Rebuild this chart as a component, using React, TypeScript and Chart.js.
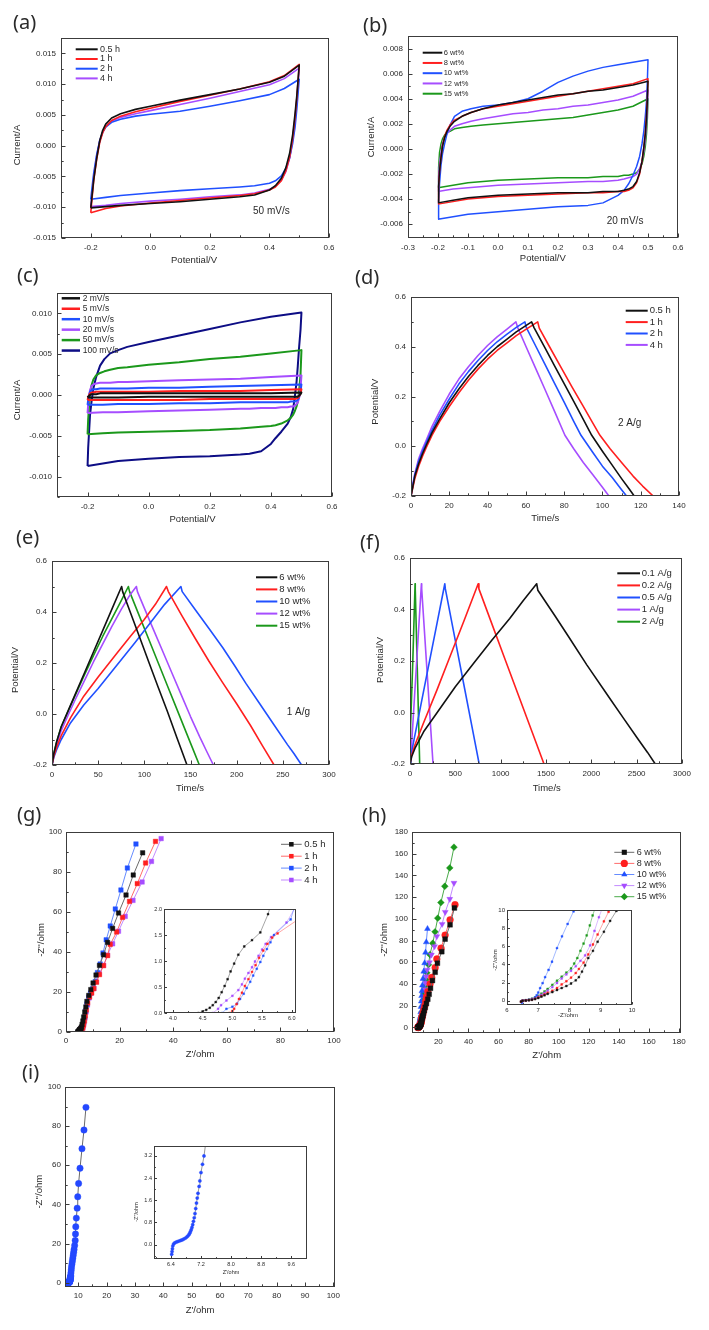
import React, { useEffect, useRef } from 'react';
import { Chart, registerables } from 'chart.js';

Chart.register(...registerables);

const SANS = '"Liberation Sans", Arial, sans-serif';
const LABEL_FONT = '"Noto Sans", "Open Sans", sans-serif';
const INK = '#2a2a2a';
const FRAME = '#3c3c3c';

const BLACK = '#111111';
const RED = '#ff1f1f';
const BLUE = '#2050ff';
const PURPLE = '#a64dff';
const GREEN = '#1b981b';
const NAVY = '#0d0d85';

// ================= (a) CV of samples, 50 mV/s =================
const A_SERIES = ['0.5 h', '1 h', '2 h', '4 h'];
const A_UP_V = [-0.2, -0.195, -0.19, -0.18, -0.17, -0.16, -0.15, -0.13, -0.1, -0.05, 0, 0.1, 0.2, 0.3, 0.4, 0.45, 0.5];
const A_LOW_V = [0.5, 0.497, 0.492, 0.486, 0.478, 0.468, 0.455, 0.44, 0.42, 0.4, 0.35, 0.3, 0.2, 0.1, 0, -0.1, -0.15, -0.2];
const A_05H_UP = [-0.0101, -0.0078, -0.0055, -0.002, 0.0008, 0.0025, 0.0035, 0.0045, 0.0052, 0.0059, 0.0064, 0.0074, 0.0083, 0.0092, 0.0103, 0.0113, 0.0131];
const A_05H_LOW = [0.0131, 0.0112, 0.0082, 0.0052, 0.0018, -0.0012, -0.0036, -0.0053, -0.0065, -0.0072, -0.008, -0.0083, -0.0087, -0.0091, -0.0094, -0.0097, -0.0099, -0.0101];
const A_1H_UP = [-0.0109, -0.0082, -0.0056, -0.0022, 0.0005, 0.0021, 0.0031, 0.0041, 0.0048, 0.0055, 0.0061, 0.0072, 0.0082, 0.0092, 0.0104, 0.0114, 0.0132];
const A_1H_LOW = [0.0132, 0.0112, 0.0078, 0.0046, 0.0012, -0.0018, -0.0041, -0.0057, -0.0067, -0.0072, -0.0078, -0.0081, -0.0085, -0.0089, -0.0093, -0.0098, -0.0102, -0.0109];
const A_2H_UP = [-0.0087, -0.0065, -0.0044, -0.0014, 0.0008, 0.0022, 0.003, 0.0038, 0.0043, 0.0048, 0.0051, 0.0056, 0.0064, 0.0073, 0.0083, 0.0093, 0.0108];
const A_2H_LOW = [0.0108, 0.009, 0.006, 0.003, 0.0004, -0.0019, -0.0037, -0.0049, -0.0057, -0.0061, -0.0065, -0.0067, -0.007, -0.0073, -0.0077, -0.0081, -0.0084, -0.0087];
const A_4H_UP = [-0.0099, -0.0074, -0.005, -0.0016, 0.0008, 0.0022, 0.0031, 0.004, 0.0046, 0.0052, 0.0057, 0.0067, 0.0077, 0.0088, 0.0099, 0.0109, 0.0126];
const A_4H_LOW = [0.0126, 0.0106, 0.0072, 0.0041, 0.0009, -0.002, -0.0042, -0.0056, -0.0066, -0.0071, -0.0077, -0.008, -0.0083, -0.0087, -0.009, -0.0094, -0.0097, -0.0099];
const A_XTICKS = [-0.2, 0, 0.2, 0.4, 0.6];
const A_YTICKS = [-0.015, -0.01, -0.005, 0, 0.005, 0.01, 0.015];

// ================= (b) CV of loadings, 20 mV/s =================
const B_SERIES = ['6 wt%', '8 wt%', '10 wt%', '12 wt%', '15 wt%'];
const B_UP_V = [-0.2, -0.198, -0.195, -0.19, -0.185, -0.178, -0.17, -0.16, -0.145, -0.12, -0.09, -0.05, 0, 0.05, 0.1, 0.15, 0.2, 0.25, 0.3, 0.35, 0.4, 0.45, 0.5];
const B_LOW_V = [0.5, 0.498, 0.495, 0.491, 0.486, 0.48, 0.472, 0.462, 0.45, 0.435, 0.42, 0.4, 0.35, 0.3, 0.2, 0.1, 0, -0.1, -0.15, -0.2];
const B6_UP = [-0.0043, -0.003, -0.0018, -0.0007, 0.0002, 0.0009, 0.0014, 0.0018, 0.0022, 0.0026, 0.0029, 0.0032, 0.0035, 0.0037, 0.0039, 0.0041, 0.0043, 0.0044, 0.0046, 0.0047, 0.0049, 0.0051, 0.0054];
const B6_LOW = [0.0054, 0.004, 0.0025, 0.0012, 0.0001, -0.001, -0.0019, -0.0026, -0.003, -0.0032, -0.0033, -0.0034, -0.0034, -0.0035, -0.0035, -0.0036, -0.0037, -0.0039, -0.0041, -0.0043];
const B8_UP = [-0.0044, -0.003, -0.0018, -0.0007, 0.0003, 0.001, 0.0015, 0.0019, 0.0023, 0.0026, 0.0029, 0.0032, 0.0034, 0.0036, 0.0038, 0.004, 0.0042, 0.0044, 0.0046, 0.0048, 0.005, 0.0052, 0.0056];
const B8_LOW = [0.0056, 0.0042, 0.0027, 0.0013, 0.0001, -0.001, -0.002, -0.0027, -0.0031, -0.0033, -0.0034, -0.0034, -0.0035, -0.0035, -0.0036, -0.0037, -0.0038, -0.004, -0.0042, -0.0044];
const B10_UP = [-0.0056, -0.0042, -0.0028, -0.0013, -0.0004, 0.0004, 0.0012, 0.0019, 0.0026, 0.003, 0.0032, 0.0034, 0.0035, 0.0037, 0.004, 0.0046, 0.0053, 0.0058, 0.0062, 0.0065, 0.0067, 0.0069, 0.0071];
const B10_LOW = [0.0071, 0.0055, 0.0038, 0.0026, 0.0014, 0.0004, -0.0006, -0.0014, -0.0021, -0.0028, -0.0033, -0.0037, -0.0043, -0.0045, -0.0046, -0.0048, -0.005, -0.0052, -0.0054, -0.0056];
const B12_UP = [-0.0034, -0.0022, -0.0012, -0.0003, 0.0004, 0.0009, 0.0012, 0.0015, 0.0018, 0.002, 0.0022, 0.0024, 0.0026, 0.0028, 0.0029, 0.0031, 0.0032, 0.0034, 0.0035, 0.0037, 0.0039, 0.0042, 0.0047];
const B12_LOW = [0.0047, 0.0033, 0.002, 0.0008, -0.0002, -0.001, -0.0016, -0.002, -0.0022, -0.0023, -0.0024, -0.0025, -0.0026, -0.0026, -0.0027, -0.0028, -0.0029, -0.0031, -0.0032, -0.0034];
const B15_UP = [-0.0031, -0.0015, -0.0003, 0.0004, 0.0008, 0.0011, 0.0013, 0.0014, 0.0016, 0.0017, 0.0018, 0.0019, 0.002, 0.0021, 0.0022, 0.0023, 0.0024, 0.0025, 0.0027, 0.0029, 0.0031, 0.0034, 0.004];
const B15_LOW = [0.004, 0.0025, 0.0012, 0.0002, -0.0006, -0.0012, -0.0016, -0.0019, -0.002, -0.0021, -0.0021, -0.0022, -0.0022, -0.0023, -0.0023, -0.0024, -0.0025, -0.0027, -0.0029, -0.0031];
const B_XTICKS = [-0.3, -0.2, -0.1, 0, 0.1, 0.2, 0.3, 0.4, 0.5, 0.6];
const B_YTICKS = [-0.006, -0.004, -0.002, 0, 0.002, 0.004, 0.006, 0.008];

// ================= (c) CV at scan rates =================
const C_SERIES = ['2 mV/s', '5 mV/s', '10 mV/s', '20 mV/s', '50 mV/s', '100 mV/s'];
const C_UP_V = [-0.2, -0.198, -0.195, -0.192, -0.187, -0.181, -0.172, -0.159, -0.145, -0.126, -0.1, -0.07, 0, 0.1, 0.2, 0.3, 0.4, 0.5];
const C_LOW_V = [0.5, 0.497, 0.492, 0.488, 0.484, 0.479, 0.473, 0.465, 0.455, 0.434, 0.415, 0.4, 0.368, 0.33, 0.3, 0.2, 0.1, 0, -0.1, -0.15, -0.2];
const C2_UP = [-0.0003, -0.0002, -0.0001, 0, 0.0001, 0.0001, 0.0001, 0.0002, 0.0002, 0.0002, 0.0002, 0.0002, 0.0002, 0.0002, 0.0002, 0.0002, 0.0002, 0.0003];
const C2_LOW = [0.0003, 0.0001, -0.0001, -0.0002, -0.0002, -0.0002, -0.0002, -0.0002, -0.0002, -0.0002, -0.0002, -0.0002, -0.0002, -0.0002, -0.0002, -0.0002, -0.0002, -0.0002, -0.0003, -0.0003, -0.0003];
const C5_UP = [-0.0006, -0.0003, 0, 0.0002, 0.0003, 0.0003, 0.0004, 0.0004, 0.0004, 0.0004, 0.0004, 0.0004, 0.0004, 0.0005, 0.0005, 0.0005, 0.0006, 0.0007];
const C5_LOW = [0.0007, 0.0002, -0.0002, -0.0004, -0.0004, -0.0005, -0.0005, -0.0005, -0.0005, -0.0005, -0.0005, -0.0005, -0.0005, -0.0005, -0.0005, -0.0005, -0.0006, -0.0006, -0.0006, -0.0006, -0.0006];
const C10_UP = [-0.0012, -0.0006, 0, 0.0004, 0.0006, 0.0007, 0.0007, 0.0008, 0.0008, 0.0008, 0.0008, 0.0008, 0.0009, 0.0009, 0.001, 0.0011, 0.0012, 0.0013];
const C10_LOW = [0.0013, 0.0004, -0.0003, -0.0006, -0.0007, -0.0008, -0.0008, -0.0008, -0.0009, -0.0009, -0.0009, -0.0009, -0.0009, -0.0009, -0.0009, -0.001, -0.001, -0.0011, -0.0011, -0.0012, -0.0012];
const C20_UP = [-0.0022, -0.0012, -0.0002, 0.0006, 0.0011, 0.0013, 0.0014, 0.0015, 0.0015, 0.0015, 0.0016, 0.0016, 0.0017, 0.0018, 0.0019, 0.002, 0.0022, 0.0024];
const C20_LOW = [0.0024, 0.0008, -0.0004, -0.0009, -0.0011, -0.0013, -0.0014, -0.0014, -0.0015, -0.0015, -0.0016, -0.0016, -0.0016, -0.0017, -0.0017, -0.0018, -0.0019, -0.002, -0.0021, -0.0021, -0.0022];
const C50_UP = [-0.0048, -0.003, -0.0013, 0, 0.0012, 0.0019, 0.0024, 0.0027, 0.0029, 0.0031, 0.0033, 0.0034, 0.0037, 0.004, 0.0044, 0.0047, 0.0051, 0.0055];
const C50_LOW = [0.0055, 0.0025, 0.0003, -0.0008, -0.0014, -0.0019, -0.0024, -0.0028, -0.0031, -0.0035, -0.0037, -0.0038, -0.0039, -0.004, -0.0041, -0.0043, -0.0044, -0.0045, -0.0046, -0.0047, -0.0048];
const C100_UP = [-0.0087, -0.0065, -0.0045, -0.0025, -0.0008, 0.0008, 0.0022, 0.0036, 0.0044, 0.0051, 0.0055, 0.0059, 0.0065, 0.0073, 0.0081, 0.0089, 0.0096, 0.0101];
const C100_LOW = [0.0101, 0.008, 0.0057, 0.0035, 0.0016, 0, -0.0017, -0.0027, -0.0035, -0.0045, -0.0053, -0.006, -0.0069, -0.0072, -0.0073, -0.0075, -0.0076, -0.0078, -0.0081, -0.0084, -0.0087];
const C_XTICKS = [-0.2, 0, 0.2, 0.4, 0.6];
const C_YTICKS = [-0.01, -0.005, 0, 0.005, 0.01];

// ================= (d) GCD of samples, 2 A/g =================
const D_SERIES = ['0.5 h', '1 h', '2 h', '4 h'];
const D05_T = [0, 1, 2, 4, 6, 8, 11, 15, 20, 25, 30, 35, 40, 45, 50, 55, 60, 63, 64.2, 70, 75, 80, 85, 90, 94.4, 100, 105, 110, 114, 116.6];
const D05_V = [-0.2, -0.16, -0.12, -0.07, -0.03, 0.005, 0.055, 0.11, 0.175, 0.23, 0.28, 0.325, 0.365, 0.4, 0.43, 0.46, 0.485, 0.5, 0.478, 0.395, 0.323, 0.252, 0.18, 0.108, 0.044, -0.02, -0.075, -0.13, -0.172, -0.2];
const D1_T = [0, 1, 2, 4, 6, 8, 11, 15, 20, 25, 30, 35, 40, 45, 50, 55, 60, 66.2, 67, 72, 78, 84, 90, 95, 98.7, 104, 110, 116, 121, 126.5];
const D1_V = [-0.2, -0.165, -0.13, -0.08, -0.04, -0.005, 0.045, 0.1, 0.16, 0.215, 0.265, 0.31, 0.35, 0.385, 0.415, 0.445, 0.47, 0.5, 0.475, 0.405, 0.322, 0.24, 0.16, 0.093, 0.044, -0.01, -0.065, -0.12, -0.16, -0.2];
const D2_T = [0, 1, 2, 4, 6, 8, 11, 15, 20, 25, 30, 35, 40, 45, 50, 55, 59.5, 60.2, 65, 70, 75, 80, 85, 88.8, 95, 100, 105, 110, 112.6];
const D2_V = [-0.2, -0.155, -0.115, -0.06, -0.02, 0.015, 0.065, 0.125, 0.19, 0.25, 0.3, 0.345, 0.385, 0.42, 0.45, 0.478, 0.5, 0.478, 0.405, 0.329, 0.253, 0.177, 0.1, 0.044, -0.025, -0.08, -0.125, -0.175, -0.2];
const D4_T = [0, 1, 2, 4, 6, 8, 11, 15, 20, 25, 30, 35, 40, 45, 50, 54.8, 55.7, 60, 65, 70, 75, 80.4, 85, 90, 95, 100, 103.4];
const D4_V = [-0.2, -0.15, -0.11, -0.05, -0.01, 0.025, 0.08, 0.14, 0.21, 0.27, 0.32, 0.365, 0.405, 0.44, 0.47, 0.5, 0.478, 0.402, 0.315, 0.228, 0.14, 0.044, -0.01, -0.065, -0.115, -0.165, -0.2];
const D_XTICKS = [0, 20, 40, 60, 80, 100, 120, 140];
const GCD_YTICKS = [-0.2, 0, 0.2, 0.4, 0.6];

// ================= (e) GCD of loadings, 1 A/g =================
const E_SERIES = ['6 wt%', '8 wt%', '10 wt%', '12 wt%', '15 wt%'];
const E6_T = [0, 2, 5, 10, 18, 25, 35, 45, 55, 65, 75.4, 76.5, 85, 95, 105, 115, 125, 135, 146.2];
const E6_V = [-0.2, -0.155, -0.11, -0.05, 0.017, 0.076, 0.16, 0.244, 0.328, 0.412, 0.5, 0.48, 0.397, 0.3, 0.202, 0.105, 0.01, -0.09, -0.2];
const E8_T = [0, 2, 5, 10, 20, 34.4, 50, 70.7, 85, 99.7, 112, 124, 126, 140, 155, 170, 185, 200, 215, 228, 240.5];
const E8_V = [-0.2, -0.165, -0.13, -0.085, -0.015, 0.07, 0.145, 0.24, 0.305, 0.37, 0.43, 0.5, 0.48, 0.39, 0.297, 0.207, 0.122, 0.04, -0.045, -0.125, -0.2];
const E10_T = [0, 2, 5, 10, 20, 34.4, 50, 70, 90, 107, 122, 139.6, 141, 155, 170, 185, 197.7, 210, 225, 240, 255, 262, 270.3];
const E10_V = [-0.2, -0.17, -0.14, -0.1, -0.035, 0.035, 0.1, 0.19, 0.28, 0.36, 0.43, 0.5, 0.48, 0.41, 0.335, 0.26, 0.19, 0.12, 0.04, -0.04, -0.12, -0.155, -0.2];
const E12_T = [0, 2, 5, 10, 18, 25, 35, 45, 55, 65, 75, 85, 91.4, 92.5, 100, 110, 120, 130, 140, 150, 160, 168, 174.8];
const E12_V = [-0.2, -0.16, -0.12, -0.065, 0.0, 0.055, 0.13, 0.205, 0.275, 0.345, 0.41, 0.47, 0.5, 0.48, 0.415, 0.33, 0.245, 0.16, 0.075, -0.01, -0.09, -0.15, -0.2];
const E15_T = [0, 2, 5, 10, 18, 25, 35, 45, 55, 65, 75, 82.7, 84, 95, 105, 115, 125, 135, 145, 152, 159.6];
const E15_V = [-0.2, -0.155, -0.11, -0.05, 0.015, 0.072, 0.152, 0.23, 0.305, 0.375, 0.445, 0.5, 0.48, 0.381, 0.291, 0.201, 0.111, 0.021, -0.069, -0.132, -0.2];
const E_XTICKS = [0, 50, 100, 150, 200, 250, 300];

// ================= (f) GCD at current densities =================
const F_SERIES = ['0.1 A/g', '0.2 A/g', '0.5 A/g', '1 A/g', '2 A/g'];
const F01_T = [0, 20, 60, 150, 300, 500, 700, 900, 1100, 1250, 1397, 1410, 1600, 1746, 1950, 2189, 2350, 2520, 2620, 2705];
const F01_V = [-0.2, -0.17, -0.135, -0.075, 0.0, 0.1, 0.19, 0.28, 0.365, 0.435, 0.5, 0.475, 0.375, 0.296, 0.185, 0.062, -0.02, -0.106, -0.155, -0.2];
const F02_T = [0, 15, 50, 150, 300, 450, 600, 752, 760, 900, 1050, 1200, 1350, 1478];
const F02_V = [-0.2, -0.17, -0.13, -0.04, 0.09, 0.225, 0.36, 0.5, 0.48, 0.347, 0.205, 0.063, -0.079, -0.2];
const F05_T = [0, 8, 25, 100, 200, 300, 384, 390, 500, 600, 700, 763];
const F05_V = [-0.2, -0.17, -0.14, -0.006, 0.172, 0.35, 0.5, 0.48, 0.279, 0.097, -0.085, -0.2];
const F1_T = [0, 5, 15, 50, 90, 126, 129, 180, 220, 254];
const F1_V = [-0.2, -0.17, -0.14, 0.062, 0.293, 0.5, 0.48, 0.203, -0.015, -0.2];
const F2_T = [0, 3, 10, 30, 56, 58, 80, 107];
const F2_V = [-0.2, -0.15, -0.05, 0.189, 0.5, 0.48, 0.175, -0.2];
const F_XTICKS = [0, 500, 1000, 1500, 2000, 2500, 3000];

// ================= (g) Nyquist of samples =================
const G_SERIES = ['0.5 h', '1 h', '2 h', '4 h'];
const G05_X = [4.43, 4.5, 4.56, 4.62, 4.67, 4.72, 4.77, 4.82, 4.87, 4.92, 4.97, 5.03, 5.1, 5.2, 5.33, 5.47, 5.6, 5.75, 6.0, 6.3, 6.6, 7.0, 7.4, 7.8, 8.5, 9.25, 10.1, 11.2, 12.5, 14.0, 15.5, 17.4, 19.6, 22.4, 25.1, 28.6];
const G05_Y = [0, 0.03, 0.06, 0.1, 0.15, 0.21, 0.29, 0.4, 0.52, 0.65, 0.8, 0.95, 1.12, 1.28, 1.4, 1.55, 1.9, 2.5, 3.8, 5.5, 7.5, 10, 12.5, 15.3, 18.3, 21.2, 24.5, 28.5, 33.3, 38.6, 44.8, 51.8, 59.5, 68.5, 78.5, 89.6];
const G1_X = [4.95, 5.0, 5.03, 5.07, 5.11, 5.16, 5.21, 5.27, 5.33, 5.39, 5.45, 5.52, 5.59, 5.67, 5.76, 6.3, 6.6, 6.9, 7.2, 7.6, 8.1, 8.8, 9.6, 10.4, 11.4, 12.5, 14.0, 15.5, 16.5, 18.9, 21.1, 23.7, 26.6, 29.7, 33.4];
const G1_Y = [0, 0.04, 0.08, 0.17, 0.27, 0.39, 0.52, 0.65, 0.79, 0.92, 1.06, 1.2, 1.33, 1.45, 1.53, 1.95, 3.5, 5.5, 8, 11, 14.5, 17.5, 19.5, 21.7, 24.9, 28.7, 33.2, 38.2, 43.8, 50, 57.3, 65.3, 74.2, 84.5, 95.3];
const G2_X = [4.83, 4.9, 5.0, 5.08, 5.13, 5.19, 5.24, 5.3, 5.35, 5.41, 5.47, 5.52, 5.58, 5.64, 5.7, 5.98, 6.3, 6.6, 6.9, 7.3, 7.8, 8.5, 9.2, 10.0, 10.9, 11.75, 12.75, 13.8, 15.0, 16.5, 18.4, 20.5, 22.9, 26.1];
const G2_Y = [0, 0.08, 0.12, 0.18, 0.27, 0.37, 0.48, 0.6, 0.72, 0.85, 0.98, 1.1, 1.23, 1.36, 1.5, 1.8, 3, 5, 7.5, 10.5, 14, 17.5, 19.5, 21.8, 25.2, 29.7, 34, 39.5, 46.1, 53, 61.5, 71, 82, 94];
const G4_X = [4.67, 4.76, 4.81, 4.9, 5.0, 5.1, 5.16, 5.21, 5.27, 5.33, 5.38, 5.44, 5.5, 5.56, 5.65, 5.91, 6.3, 6.7, 7.1, 7.5, 8.0, 8.6, 9.4, 10.4, 11.2, 12.4, 14.0, 15.5, 17.4, 19.6, 22.1, 25.0, 28.4, 31.9, 35.5];
const G4_Y = [0, 0.08, 0.15, 0.24, 0.33, 0.44, 0.55, 0.66, 0.77, 0.88, 0.99, 1.1, 1.22, 1.33, 1.46, 1.74, 2.5, 4.5, 7, 10, 13.5, 17, 19.5, 21.8, 25.2, 29.2, 33.3, 38.4, 44.1, 50.4, 57.8, 65.8, 75, 85.3, 96.7];
const G_TICKS = [0, 20, 40, 60, 80, 100];
const GI_XTICKS = [4, 4.5, 5, 5.5, 6];
const GI_YTICKS = [0, 0.5, 1, 1.5, 2];

// ================= (h) Nyquist of loadings =================
const H_SERIES = ['6 wt%', '8 wt%', '10 wt%', '12 wt%', '15 wt%'];
const H6_X = [6.45, 6.5, 6.6, 6.7, 6.8, 6.9, 7.0, 7.1, 7.2, 7.3, 7.45, 7.6, 7.75, 7.9, 8.05, 8.2, 8.3, 8.4, 8.5, 8.6, 8.75, 8.9, 9.1, 9.3, 9.5, 9.8, 10.2, 10.7, 11.3, 12.1, 13.0, 13.9, 14.8, 16.1, 17.9, 19.4, 22.3, 24.5, 27.8, 30.7];
const H6_Y = [-0.1, 0, 0.02, 0.05, 0.1, 0.18, 0.3, 0.45, 0.6, 0.75, 0.95, 1.18, 1.4, 1.62, 1.9, 2.25, 2.6, 3.2, 3.9, 4.7, 5.5, 6.5, 7.6, 8.8, 9.9, 11, 13, 15.5, 18.5, 22, 25.9, 30.5, 36, 43.1, 50.8, 59.1, 69.7, 81.3, 94.5, 110];
const H8_X = [6.45, 6.5, 6.6, 6.7, 6.8, 6.9, 7.0, 7.1, 7.2, 7.3, 7.45, 7.6, 7.75, 7.9, 8.05, 8.2, 8.3, 8.45, 8.6, 8.75, 8.9, 9.1, 9.25, 9.5, 9.9, 10.4, 11.0, 11.6, 12.1, 13.0, 14.5, 15.6, 17.9, 19.0, 21.8, 24.5, 27.8, 31.1];
const H8_Y = [-0.1, 0, 0.03, 0.07, 0.13, 0.22, 0.35, 0.52, 0.7, 0.88, 1.1, 1.4, 1.8, 2.15, 2.55, 3.05, 3.5, 4.2, 5.1, 6.2, 7.3, 8.75, 9.8, 11, 13.5, 16.5, 20, 24, 28, 33, 40, 46, 55, 63, 73, 85, 99.1, 113];
const H10_X = [6.46, 6.48, 6.5, 6.6, 6.7, 6.8, 6.9, 6.95, 7.0, 7.06, 7.14, 7.22, 7.33, 7.44, 7.6, 7.76, 7.94, 8.13, 8.3, 8.5, 8.7, 8.9, 9.1, 9.4, 9.8, 10.3, 10.9, 11.5, 12.0, 12.8];
const H10_Y = [-0.5, -0.2, 0, 0.05, 0.1, 0.2, 0.37, 0.6, 0.9, 1.39, 1.94, 2.6, 3.4, 4.3, 5.8, 7.1, 8.46, 9.85, 14, 19, 24, 29, 33.5, 38.7, 44.8, 51.5, 59.2, 69, 78.5, 90.8];
const H12_X = [6.45, 6.5, 6.6, 6.7, 6.8, 6.9, 7.0, 7.1, 7.2, 7.3, 7.45, 7.6, 7.75, 7.9, 8.05, 8.2, 8.35, 8.5, 8.66, 8.8, 8.94, 9.05, 9.3, 9.6, 10.0, 10.5, 11.0, 11.5, 11.9, 12.6, 14.1, 15.4, 17.5, 19.0, 22.5, 24.6, 27.6, 30.4];
const H12_Y = [-0.1, 0, 0.04, 0.09, 0.17, 0.28, 0.45, 0.65, 0.88, 1.12, 1.5, 1.95, 2.45, 2.9, 3.3, 3.8, 4.4, 5.0, 6.1, 7.7, 9.2, 10.2, 13, 17, 22, 28, 35, 41, 46.9, 53, 59.8, 66.9, 74.6, 83.8, 95.1, 106.2, 118.2, 133];
const H15_X = [6.45, 6.5, 6.6, 6.7, 6.8, 6.9, 7.0, 7.1, 7.2, 7.3, 7.45, 7.6, 7.75, 7.9, 8.05, 8.15, 8.25, 8.35, 8.45, 8.55, 8.65, 8.74, 8.85, 9.1, 9.4, 9.8, 10.3, 10.9, 11.8, 12.4, 13.5, 14.4, 16.3, 17.8, 19.6, 21.7, 24.3, 27.6, 30.4];
const H15_Y = [-0.1, 0, 0.05, 0.12, 0.22, 0.36, 0.55, 0.78, 1.02, 1.3, 1.75, 2.2, 2.65, 3.1, 3.55, 4.1, 4.7, 5.5, 6.3, 7.2, 8.3, 9.4, 10.5, 14, 19, 25, 31, 37.5, 43.8, 50.2, 57.8, 67, 77.5, 88, 100.6, 115, 130, 146.9, 166];
const H_XTICKS = [20, 40, 60, 80, 100, 120, 140, 160, 180];
const H_YTICKS = [0, 20, 40, 60, 80, 100, 120, 140, 160, 180];
const HI_XTICKS = [6, 7, 8, 9, 10];
const HI_YTICKS = [0, 2, 4, 6, 8, 10];

// ================= (i) Nyquist =================
const I_X = [6.42, 6.43, 6.44, 6.45, 6.47, 6.5, 6.54, 6.58, 6.62, 6.66, 6.7, 6.74, 6.78, 6.82, 6.85, 6.88, 6.9, 6.92, 6.94, 6.96, 6.98, 7.0, 7.02, 7.04, 7.06, 7.08, 7.1, 7.12, 7.15, 7.17, 7.2, 7.24, 7.28, 7.32, 7.4, 7.5, 7.6, 7.75, 7.9, 8.05, 8.2, 8.35, 8.5, 8.7, 8.9, 9.0, 9.1, 9.3, 9.6, 9.8, 10.1, 10.6, 11.3, 12.0, 12.7];
const I_Y = [-0.35, -0.25, -0.15, -0.05, 0.02, 0.06, 0.09, 0.11, 0.13, 0.15, 0.17, 0.2, 0.23, 0.27, 0.31, 0.36, 0.41, 0.47, 0.54, 0.62, 0.72, 0.84, 0.97, 1.12, 1.3, 1.5, 1.68, 1.85, 2.1, 2.3, 2.6, 2.9, 3.2, 3.6, 5, 6.5, 8, 9.5, 11, 12.5, 14, 15.5, 17, 19, 21.6, 24.9, 28.6, 33, 38.1, 43.9, 50.7, 58.5, 68.5, 78, 89.6];
const I_XTICKS = [10, 20, 30, 40, 50, 60, 70, 80, 90, 100];
const I_YTICKS = [0, 20, 40, 60, 80, 100];
const II_XTICKS = [6.4, 7.2, 8.0, 8.8, 9.6];
const II_YTICKS = [0, 0.8, 1.6, 2.4, 3.2];

// ================= helpers =================
type Box = { x: number; y: number; w: number; h: number };
type Axis = { min: number; max: number; ticks: number[]; dec: number; minor: number };
type Txt = { t: string; x: number; y: number; s: number; rot?: boolean; a?: CanvasTextAlign; f?: string };
type LegItem = { label: string; color: string; line?: string; marker?: string; rot?: number };
type Leg = { x: number; y: number; dy: number; len: number; tx: number; s: number; lw: number; mr?: number; items: LegItem[] };
type Spec = {
  box: Box; rect: Box; x: Axis; y: Axis;
  tickSize: number; tickPad: number; tickLen: number;
  datasets: any[]; texts: Txt[]; legend?: Leg; bg?: boolean;
};

const pts = (xs: number[], ys: number[]) => xs.map((x, i) => ({ x, y: ys[i] }));
const loop = (uv: number[], ui: number[], lv: number[], li: number[]) => [...pts(uv, ui), ...pts(lv, li)];
const curve = (data: any[], color: string, w: number) => ({
  data, showLine: true, borderColor: color, backgroundColor: color, borderWidth: w,
  pointRadius: 0, pointHoverRadius: 0, tension: 0, borderJoinStyle: 'round',
});
const marked = (data: any[], color: string, line: string, style: string, r: number, lw: number, rot = 0, clip?: number) => {
  const d: any = {
    data, showLine: true, borderColor: line, backgroundColor: color, borderWidth: lw,
    pointStyle: style, pointRotation: rot, pointRadius: r, pointHoverRadius: r,
    pointBackgroundColor: color, pointBorderColor: color, pointBorderWidth: 0.4,
  };
  if (clip !== undefined) d.clip = clip;
  return d;
};

function drawMarker(ctx: CanvasRenderingContext2D, style: string, x: number, y: number, r: number, color: string, rot = 0) {
  ctx.save();
  ctx.fillStyle = color;
  ctx.translate(x, y);
  ctx.rotate((rot * Math.PI) / 180);
  ctx.beginPath();
  if (style === 'rect') {
    const s = r * Math.SQRT1_2;
    ctx.rect(-s, -s, 2 * s, 2 * s);
  } else if (style === 'circle') {
    ctx.arc(0, 0, r, 0, Math.PI * 2);
  } else if (style === 'triangle') {
    for (let k = 0; k < 3; k++) {
      const a = (k * 2 * Math.PI) / 3;
      const px = Math.sin(a) * r, py = -Math.cos(a) * r;
      if (k === 0) ctx.moveTo(px, py); else ctx.lineTo(px, py);
    }
    ctx.closePath();
  } else if (style === 'rectRot') {
    ctx.moveTo(0, -r); ctx.lineTo(r, 0); ctx.lineTo(0, r); ctx.lineTo(-r, 0); ctx.closePath();
  }
  ctx.fill();
  ctx.restore();
}

function decoPlugin(s: Spec) {
  return {
    id: 'deco',
    beforeDatasetsDraw(chart: any) {
      if (!s.bg) return;
      const a = chart.chartArea;
      const ctx = chart.ctx;
      ctx.save();
      ctx.fillStyle = '#ffffff';
      ctx.fillRect(a.left, a.top, a.right - a.left, a.bottom - a.top);
      ctx.restore();
    },
    afterDraw(chart: any) {
      const ctx: CanvasRenderingContext2D = chart.ctx;
      const a = chart.chartArea;
      const xs = chart.scales.x;
      const ys = chart.scales.y;
      const L = Math.round(a.left) + 0.5, R = Math.round(a.right) - 0.5;
      const T = Math.round(a.top) + 0.5, B = Math.round(a.bottom) - 0.5;
      ctx.save();
      ctx.strokeStyle = FRAME;
      ctx.lineWidth = 1;
      ctx.strokeRect(L, T, R - L, B - T);
      ctx.beginPath();
      const doAxis = (ax: Axis, horiz: boolean) => {
        const isMajor = (v: number) => ax.ticks.some((t) => Math.abs(t - v) < ax.minor * 1e-3);
        const k0 = Math.ceil(ax.min / ax.minor - 1e-6), k1 = Math.floor(ax.max / ax.minor + 1e-6);
        const vals: number[] = [];
        for (let k = k0; k <= k1; k++) vals.push(k * ax.minor);
        ax.ticks.forEach((t) => { if (!vals.some((v) => Math.abs(v - t) < ax.minor * 1e-3)) vals.push(t); });
        vals.forEach((v) => {
          const len = isMajor(v) ? s.tickLen : s.tickLen * 0.55;
          if (horiz) {
            const p = Math.round(xs.getPixelForValue(v)) + 0.5;
            ctx.moveTo(p, B); ctx.lineTo(p, B - len);
          } else {
            const p = Math.round(ys.getPixelForValue(v)) + 0.5;
            ctx.moveTo(L, p); ctx.lineTo(L + len, p);
          }
        });
      };
      doAxis(s.x, true);
      doAxis(s.y, false);
      ctx.stroke();

      ctx.fillStyle = INK;
      ctx.textBaseline = 'middle';
      s.texts.forEach((t) => {
        const cx = t.x - s.box.x, cy = t.y - s.box.y;
        ctx.font = `${t.s}px ${t.f || SANS}`;
        ctx.textAlign = t.a || 'center';
        if (t.rot) {
          ctx.save();
          ctx.translate(cx, cy);
          ctx.rotate(-Math.PI / 2);
          ctx.fillText(t.t, 0, 0);
          ctx.restore();
        } else {
          ctx.fillText(t.t, cx, cy);
        }
      });

      const lg = s.legend;
      if (lg) {
        lg.items.forEach((it, i) => {
          const y = lg.y - s.box.y + i * lg.dy;
          const x0 = lg.x - s.box.x;
          ctx.strokeStyle = it.line || it.color;
          ctx.lineWidth = lg.lw;
          ctx.beginPath();
          ctx.moveTo(x0, y); ctx.lineTo(x0 + lg.len, y);
          ctx.stroke();
          if (it.marker) drawMarker(ctx, it.marker, x0 + lg.len / 2, y, lg.mr || 3, it.color, it.rot || 0);
          ctx.fillStyle = INK;
          ctx.font = `${lg.s}px ${SANS}`;
          ctx.textAlign = 'left';
          ctx.fillText(it.label, lg.tx - s.box.x, y);
        });
      }
      ctx.restore();
    },
  };
}

function build(canvas: HTMLCanvasElement, s: Spec) {
  const m = {
    l: s.rect.x - s.box.x,
    t: s.rect.y - s.box.y,
    r: s.box.x + s.box.w - s.rect.x - s.rect.w,
    b: s.box.y + s.box.h - s.rect.y - s.rect.h,
  };
  const axis = (a: Axis, horiz: boolean) => ({
    type: 'linear',
    position: horiz ? 'bottom' : 'left',
    min: a.min, max: a.max, bounds: 'data',
    grid: { display: false, drawTicks: false },
    border: { display: false },
    ticks: {
      autoSkip: false, maxRotation: 0, minRotation: 0, padding: s.tickPad, color: INK,
      font: { family: SANS, size: s.tickSize },
      callback: (v: any) => Number(v).toFixed(a.dec),
    },
    afterBuildTicks: (sc: any) => { sc.ticks = a.ticks.map((v) => ({ value: v })); },
    afterFit: (sc: any) => { if (horiz) sc.height = m.b; else sc.width = m.l; },
  });
  return new Chart(canvas, {
    type: 'scatter',
    data: { datasets: s.datasets },
    options: {
      responsive: false, maintainAspectRatio: false, animation: false, devicePixelRatio: 1, events: [],
      layout: { padding: { left: 0, top: m.t, right: m.r, bottom: 0 } },
      plugins: { legend: { display: false }, tooltip: { enabled: false }, title: { display: false } },
      scales: { x: axis(s.x, true), y: axis(s.y, false) },
    },
    plugins: [decoPlugin(s)],
  } as any);
}

// ================= panel specs =================
const L_COL = 0, R_COL = 354;
const colBox = (col: number, y0: number, y1: number): Box => ({ x: col, y: y0, w: col === 0 ? 354 : 355, h: y1 - y0 });
const lab = (t: string, x: number, y: number): Txt => ({ t, x, y, s: 20, a: 'left', f: LABEL_FONT });
const GCD_Y: Axis = { min: -0.2, max: 0.6, ticks: GCD_YTICKS, dec: 1, minor: 0.1 };
const CV_X: Axis = { min: -0.3, max: 0.6, ticks: A_XTICKS, dec: 1, minor: 0.1 };

const SPEC_A: Spec = {
  box: colBox(L_COL, 0, 265), rect: { x: 61, y: 38, w: 268, h: 200 },
  x: CV_X,
  y: { min: -0.015, max: 0.0175, ticks: A_YTICKS, dec: 3, minor: 0.0025 },
  tickSize: 8, tickPad: 5, tickLen: 4,
  datasets: [
    curve(loop(A_UP_V, A_05H_UP, A_LOW_V, A_05H_LOW), BLACK, 1.6),
    curve(loop(A_UP_V, A_1H_UP, A_LOW_V, A_1H_LOW), RED, 1.6),
    curve(loop(A_UP_V, A_2H_UP, A_LOW_V, A_2H_LOW), BLUE, 1.6),
    curve(loop(A_UP_V, A_4H_UP, A_LOW_V, A_4H_LOW), PURPLE, 1.6),
  ],
  texts: [
    lab('(a)', 13, 23),
    { t: 'Current/A', x: 17.5, y: 145, s: 9.5, rot: true },
    { t: 'Potential/V', x: 194, y: 260, s: 9.5 },
    { t: '50 mV/s', x: 253, y: 211, s: 10, a: 'left' },
  ],
  legend: {
    x: 75.7, y: 49.3, dy: 9.7, len: 22, tx: 100, s: 9, lw: 2,
    items: A_SERIES.map((l, i) => ({ label: l, color: [BLACK, RED, BLUE, PURPLE][i] })),
  },
};

const SPEC_B: Spec = {
  box: colBox(R_COL, 0, 265), rect: { x: 408, y: 36, w: 270, h: 202 },
  x: { min: -0.3, max: 0.6, ticks: B_XTICKS, dec: 1, minor: 0.05 },
  y: { min: -0.0071, max: 0.009, ticks: B_YTICKS, dec: 3, minor: 0.001 },
  tickSize: 8, tickPad: 5, tickLen: 4,
  datasets: [
    curve(loop(B_UP_V, B6_UP, B_LOW_V, B6_LOW), BLACK, 1.5),
    curve(loop(B_UP_V, B8_UP, B_LOW_V, B8_LOW), RED, 1.5),
    curve(loop(B_UP_V, B10_UP, B_LOW_V, B10_LOW), BLUE, 1.5),
    curve(loop(B_UP_V, B12_UP, B_LOW_V, B12_LOW), PURPLE, 1.5),
    curve(loop(B_UP_V, B15_UP, B_LOW_V, B15_LOW), GREEN, 1.5),
  ],
  texts: [
    lab('(b)', 363, 26),
    { t: 'Current/A', x: 371.7, y: 137, s: 9.5, rot: true },
    { t: 'Potential/V', x: 542.8, y: 258.3, s: 9.5 },
    { t: '20 mV/s', x: 606.7, y: 221, s: 10, a: 'left' },
  ],
  legend: {
    x: 422.7, y: 52.7, dy: 10.25, len: 19.6, tx: 443.7, s: 7.5, lw: 2,
    items: B_SERIES.map((l, i) => ({ label: l, color: [BLACK, RED, BLUE, PURPLE, GREEN][i] })),
  },
};

const SPEC_C: Spec = {
  box: colBox(L_COL, 265, 530), rect: { x: 57, y: 293, w: 275, h: 204 },
  x: { min: -0.3, max: 0.6, ticks: C_XTICKS, dec: 1, minor: 0.1 },
  y: { min: -0.0125, max: 0.0125, ticks: C_YTICKS, dec: 3, minor: 0.0025 },
  tickSize: 8, tickPad: 5, tickLen: 4,
  datasets: [
    curve(loop(C_UP_V, C2_UP, C_LOW_V, C2_LOW), BLACK, 2),
    curve(loop(C_UP_V, C5_UP, C_LOW_V, C5_LOW), RED, 2),
    curve(loop(C_UP_V, C10_UP, C_LOW_V, C10_LOW), BLUE, 2),
    curve(loop(C_UP_V, C20_UP, C_LOW_V, C20_LOW), PURPLE, 2),
    curve(loop(C_UP_V, C50_UP, C_LOW_V, C50_LOW), GREEN, 2),
    curve(loop(C_UP_V, C100_UP, C_LOW_V, C100_LOW), NAVY, 2),
  ],
  texts: [
    lab('(c)', 17, 276.7),
    { t: 'Current/A', x: 17, y: 400, s: 9.5, rot: true },
    { t: 'Potential/V', x: 192.5, y: 519.3, s: 9.5 },
  ],
  legend: {
    x: 61.7, y: 298.3, dy: 10.45, len: 18.3, tx: 82.7, s: 8.5, lw: 2.5,
    items: C_SERIES.map((l, i) => ({ label: l, color: [BLACK, RED, BLUE, PURPLE, GREEN, NAVY][i] })),
  },
};

const SPEC_D: Spec = {
  box: colBox(R_COL, 265, 530), rect: { x: 411, y: 297, w: 268, h: 199 },
  x: { min: 0, max: 140, ticks: D_XTICKS, dec: 0, minor: 10 },
  y: GCD_Y,
  tickSize: 8, tickPad: 5, tickLen: 4,
  datasets: [
    curve(pts(D05_T, D05_V), BLACK, 1.6),
    curve(pts(D1_T, D1_V), RED, 1.6),
    curve(pts(D2_T, D2_V), BLUE, 1.6),
    curve(pts(D4_T, D4_V), PURPLE, 1.6),
  ],
  texts: [
    lab('(d)', 355, 278.3),
    { t: 'Potential/V', x: 375.7, y: 401.7, s: 9.5, rot: true },
    { t: 'Time/s', x: 545.3, y: 518.3, s: 9.5 },
    { t: '2 A/g', x: 618, y: 423.3, s: 10, a: 'left' },
  ],
  legend: {
    x: 625.7, y: 310.7, dy: 11.4, len: 22, tx: 649.7, s: 9.5, lw: 2,
    items: D_SERIES.map((l, i) => ({ label: l, color: [BLACK, RED, BLUE, PURPLE][i] })),
  },
};

const SPEC_E: Spec = {
  box: colBox(L_COL, 530, 800), rect: { x: 52, y: 561, w: 277, h: 204 },
  x: { min: 0, max: 300, ticks: E_XTICKS, dec: 0, minor: 25 },
  y: GCD_Y,
  tickSize: 8, tickPad: 5, tickLen: 4,
  datasets: [
    curve(pts(E6_T, E6_V), BLACK, 1.6),
    curve(pts(E8_T, E8_V), RED, 1.6),
    curve(pts(E10_T, E10_V), BLUE, 1.6),
    curve(pts(E12_T, E12_V), PURPLE, 1.6),
    curve(pts(E15_T, E15_V), GREEN, 1.6),
  ],
  texts: [
    lab('(e)', 16, 538.3),
    { t: 'Potential/V', x: 15, y: 670, s: 9.5, rot: true },
    { t: 'Time/s', x: 190, y: 788.3, s: 9.5 },
    { t: '1 A/g', x: 286.7, y: 712.7, s: 10, a: 'left' },
  ],
  legend: {
    x: 256, y: 577.3, dy: 12.1, len: 21.3, tx: 279.3, s: 9.5, lw: 2,
    items: E_SERIES.map((l, i) => ({ label: l, color: [BLACK, RED, BLUE, PURPLE, GREEN][i] })),
  },
};

const SPEC_F: Spec = {
  box: colBox(R_COL, 530, 800), rect: { x: 410, y: 558, w: 272, h: 206 },
  x: { min: 0, max: 3000, ticks: F_XTICKS, dec: 0, minor: 250 },
  y: GCD_Y,
  tickSize: 8, tickPad: 5, tickLen: 4,
  datasets: [
    curve(pts(F01_T, F01_V), BLACK, 1.6),
    curve(pts(F02_T, F02_V), RED, 1.6),
    curve(pts(F05_T, F05_V), BLUE, 1.6),
    curve(pts(F1_T, F1_V), PURPLE, 1.6),
    curve(pts(F2_T, F2_V), GREEN, 1.6),
  ],
  texts: [
    lab('(f)', 360, 543.3),
    { t: 'Potential/V', x: 380, y: 660, s: 9.5, rot: true },
    { t: 'Time/s', x: 546.7, y: 788.3, s: 9.5 },
  ],
  legend: {
    x: 617.3, y: 573.3, dy: 12.1, len: 22.7, tx: 641.7, s: 9.5, lw: 2,
    items: F_SERIES.map((l, i) => ({ label: l, color: [BLACK, RED, BLUE, PURPLE, GREEN][i] })),
  },
};

const G_COLORS = [BLACK, RED, BLUE, PURPLE];
const G_LINES = ['#6a6a6a', 'rgba(255,70,70,0.8)', 'rgba(50,100,255,0.75)', 'rgba(175,100,255,0.75)'];
const G_DATA = [pts(G05_X, G05_Y), pts(G1_X, G1_Y), pts(G2_X, G2_Y), pts(G4_X, G4_Y)];

const SPEC_G: Spec = {
  box: colBox(L_COL, 800, 1068), rect: { x: 66, y: 832, w: 268, h: 200 },
  x: { min: 0, max: 100, ticks: G_TICKS, dec: 0, minor: 10 },
  y: { min: 0, max: 100, ticks: G_TICKS, dec: 0, minor: 10 },
  tickSize: 8, tickPad: 4, tickLen: 4,
  datasets: G_DATA.map((d, i) => marked(d, G_COLORS[i], G_LINES[i], 'rect', 3.2, 1)),
  texts: [
    lab('(g)', 17, 815),
    { t: "-Z''/ohm", x: 41.7, y: 940, s: 9.5, rot: true },
    { t: "Z'/ohm", x: 200, y: 1054.3, s: 9.5 },
  ],
  legend: {
    x: 281, y: 844.3, dy: 11.9, len: 20.7, tx: 304.3, s: 9.5, lw: 1, mr: 3.2,
    items: G_SERIES.map((l, i) => ({ label: l, color: G_COLORS[i], line: G_LINES[i], marker: 'rect' })),
  },
};

const SPEC_GI: Spec = {
  box: { x: 144, y: 901, w: 158, h: 124 }, rect: { x: 164, y: 909, w: 132, h: 104 },
  x: { min: 3.85, max: 6.07, ticks: GI_XTICKS, dec: 1, minor: 0.25 },
  y: { min: 0, max: 2, ticks: GI_YTICKS, dec: 1, minor: 0.25 },
  tickSize: 5.5, tickPad: 2, tickLen: 2.5, bg: true,
  datasets: G_DATA.map((d, i) => marked(d, G_COLORS[i], G_LINES[i], 'rect', 1.3, 0.6, 0, 0)),
  texts: [],
};

const H_COLORS = [BLACK, RED, BLUE, PURPLE, GREEN];
const H_LINES = ['#6a6a6a', 'rgba(255,70,70,0.8)', 'rgba(50,100,255,0.75)', 'rgba(175,100,255,0.75)', 'rgba(30,150,30,0.8)'];
const H_STYLES = ['rect', 'circle', 'triangle', 'triangle', 'rectRot'];
const H_ROTS = [0, 0, 0, 180, 0];
const H_DATA = [pts(H6_X, H6_Y), pts(H8_X, H8_Y), pts(H10_X, H10_Y), pts(H12_X, H12_Y), pts(H15_X, H15_Y)];

const SPEC_H: Spec = {
  box: colBox(R_COL, 800, 1068), rect: { x: 412, y: 832, w: 269, h: 201 },
  x: { min: 2.5, max: 181.3, ticks: H_XTICKS, dec: 0, minor: 10 },
  y: { min: -5.2, max: 180, ticks: H_YTICKS, dec: 0, minor: 10 },
  tickSize: 8, tickPad: 4, tickLen: 4,
  datasets: H_DATA.map((d, i) => marked(d, H_COLORS[i], H_LINES[i], H_STYLES[i], 3.4, 1, H_ROTS[i])),
  texts: [
    lab('(h)', 362, 816.7),
    { t: "-Z''/ohm", x: 384.3, y: 940, s: 9.5, rot: true },
    { t: "Z'/ohm", x: 546.7, y: 1055.7, s: 9.5 },
  ],
  legend: {
    x: 614.3, y: 852.3, dy: 11.1, len: 20, tx: 636.7, s: 9, lw: 1, mr: 3.6,
    items: H_SERIES.map((l, i) => ({ label: l, color: H_COLORS[i], line: H_LINES[i], marker: H_STYLES[i], rot: H_ROTS[i] })),
  },
};

const SPEC_HI: Spec = {
  box: { x: 485, y: 903, w: 153, h: 120 }, rect: { x: 507, y: 910, w: 125, h: 95 },
  x: { min: 6, max: 10, ticks: HI_XTICKS, dec: 0, minor: 0.5 },
  y: { min: -0.47, max: 10, ticks: HI_YTICKS, dec: 0, minor: 1 },
  tickSize: 6, tickPad: 2, tickLen: 2.5, bg: true,
  datasets: H_DATA.map((d, i) => marked(d, H_COLORS[i], H_LINES[i], 'rect', 1.3, 0.6, 0, 0)),
  texts: [
    { t: "-Z'/ohm", x: 568, y: 1015, s: 6 },
    { t: "-Z''/ohm", x: 495, y: 960, s: 6, rot: true },
  ],
};

const I_DATA = pts(I_X, I_Y);

const SPEC_I: Spec = {
  box: colBox(L_COL, 1062, 1330), rect: { x: 65, y: 1087, w: 270, h: 200 },
  x: { min: 5.3, max: 100.6, ticks: I_XTICKS, dec: 0, minor: 5 },
  y: { min: -2.2, max: 100, ticks: I_YTICKS, dec: 0, minor: 10 },
  tickSize: 8, tickPad: 4, tickLen: 4,
  datasets: [marked(I_DATA, '#2448ff', '#6a6a6a', 'circle', 3.2, 1)],
  texts: [
    lab('(i)', 22, 1073),
    { t: "-Z''/ohm", x: 39.3, y: 1191.7, s: 9.5, rot: true },
    { t: "Z'/ohm", x: 200, y: 1310.7, s: 9.5 },
  ],
};

const SPEC_II: Spec = {
  box: { x: 128, y: 1140, w: 185, h: 140 }, rect: { x: 154, y: 1146, w: 153, h: 113 },
  x: { min: 5.95, max: 10.02, ticks: II_XTICKS, dec: 1, minor: 0.4 },
  y: { min: -0.52, max: 3.56, ticks: II_YTICKS, dec: 1, minor: 0.4 },
  tickSize: 5.5, tickPad: 2, tickLen: 2.5, bg: true,
  datasets: [marked(I_DATA, '#2448ff', '#6a6a6a', 'circle', 1.6, 0.7, 0, 0)],
  texts: [
    { t: "Z'/ohm", x: 231, y: 1272.7, s: 5.5 },
    { t: "-Z''/ohm", x: 136, y: 1212, s: 5.5, rot: true },
  ],
};

const SPECS: Spec[] = [SPEC_A, SPEC_B, SPEC_C, SPEC_D, SPEC_E, SPEC_F, SPEC_G, SPEC_H, SPEC_I, SPEC_GI, SPEC_HI, SPEC_II];

export default function App() {
  const refs = useRef<(HTMLCanvasElement | null)[]>([]);
  useEffect(() => {
    const charts = SPECS.map((s, i) => build(refs.current[i] as HTMLCanvasElement, s));
    return () => {
      charts.forEach((c) => c.destroy());
    };
  }, []);
  return (
    <div style={{ position: 'absolute', left: 0, top: 0, width: 709, height: 1330, background: '#ffffff', overflow: 'hidden' }}>
      {SPECS.map((s, i) => (
        <canvas
          key={i}
          ref={(el) => { refs.current[i] = el; }}
          width={s.box.w}
          height={s.box.h}
          style={{ position: 'absolute', left: s.box.x, top: s.box.y, width: s.box.w, height: s.box.h }}
        />
      ))}
    </div>
  );
}
